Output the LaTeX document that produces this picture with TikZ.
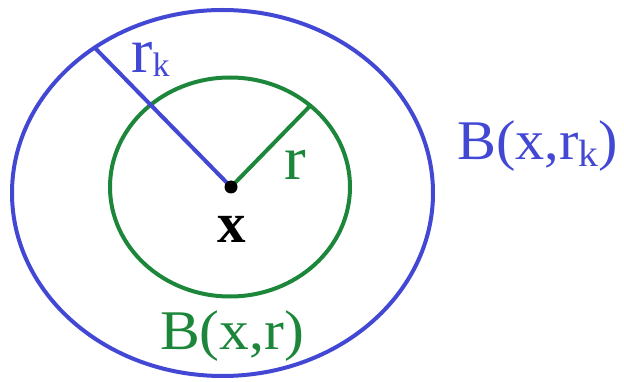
\documentclass[tikz,border=0pt]{standalone}
\usepackage{fontspec}
\setmainfont{Liberation Serif}
\definecolor{myblue}{RGB}{66,72,212}
\definecolor{mygreen}{RGB}{28,134,58}
\begin{document}
\begin{tikzpicture}[x=1pt,y=-1pt,
  lbl/.style={inner sep=0pt, anchor=base west},
  ring/.style={line width=4pt}]
\useasboundingbox (0,0) rectangle (624,382);
\draw[ring, myblue] (222.5,193) ellipse [x radius=210.5, y radius=183];
\draw[ring, mygreen] (230,187) ellipse [x radius=120, y radius=109.5];
\coordinate (c) at (231,187);
\coordinate (pk) at (95,48);
\coordinate (pr) at (310,106);
\draw[ring, myblue] (c) -- (pk);
\draw[ring, mygreen] (c) -- (pr);
\fill (c) circle (6.5);
\node[lbl, myblue] (rk) at (131,73) {\fontsize{64}{64}\selectfont r\raisebox{-4pt}{\fontsize{34}{34}\selectfont k}};
\node[lbl, mygreen] (r) at (284,180) {\scalebox{1.05}[1]{\fontsize{62}{62}\selectfont r}};
\node[inner sep=0pt, anchor=base] (x) at (231.5,243) {\fontsize{57}{57}\selectfont\bfseries x};
\node[lbl, mygreen] (Bxr) at (160,349) {\scalebox{1.065}[1]{\fontsize{56}{56}\selectfont B(x,r)}};
\node[lbl, myblue] (Bxrk) at (457,160) {\scalebox{1.04}[1]{\fontsize{56}{56}\selectfont B(x,r\raisebox{-7pt}{\fontsize{38}{38}\selectfont k})}};
\end{tikzpicture}
\end{document}
